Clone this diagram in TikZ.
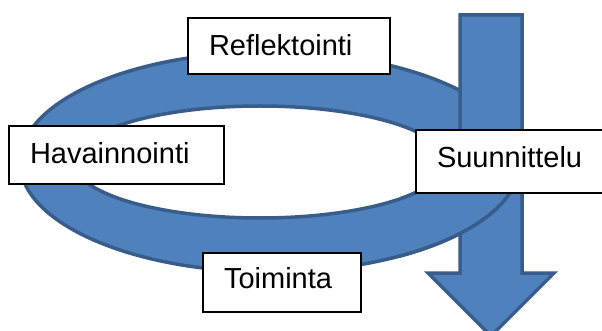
\documentclass[tikz,border=0pt]{standalone}
\usepackage{fontspec}
\setmainfont{Liberation Sans}
\begin{document}
\begin{tikzpicture}[x=1pt,y=-1pt,
  shapefill/.style={fill=ringblue,draw=ringedge,line width=3.5pt},
  box/.style={draw=black,fill=white,line width=2pt,rectangle,anchor=north west,
    inner xsep=21pt,inner ysep=0pt,align=left,text height=21pt,
    font=\fontsize{29pt}{34pt}\selectfont}]
  \definecolor{ringblue}{HTML}{4F81BD}
  \definecolor{ringedge}{HTML}{385D8A}
  \useasboundingbox (0,0) rectangle (602,331);

  % the ring (outer ellipse with an elliptic hole)
  \def\ringpath{(270,162) ellipse [x radius=250pt, y radius=110pt]
                (260,162) ellipse [x radius=186pt, y radius=56pt]}
  \path[shapefill,even odd rule] \ringpath;

  % downward block arrow
  \path[shapefill] (460,15) -- (522,15) -- (522,273) -- (554,273)
        -- (491,336) -- (428,273) -- (460,273) -- cycle;

  % lower right part of the ring passes in front of the arrow
  \begin{scope}
    \clip (400,180) rectangle (602,331);
    \path[shapefill,even odd rule] \ringpath;
  \end{scope}

  % labelled boxes
  \node[box,minimum width=202pt,minimum height=55.5pt,text width=160pt,text depth=1pt]
    (refl) at (187,17.2) {Reflektointi};
  \node[box,minimum width=215pt,minimum height=58pt,text width=173pt,text depth=3pt]
    (hav) at (8,125) {Havainnointi};
  \node[box,minimum width=200pt,minimum height=63.5pt,text width=158pt,text depth=9pt]
    (suun) at (415,129) {Suunnittelu};
  \node[box,minimum width=158pt,minimum height=58.7pt,text width=116pt,text depth=8pt]
    (toim) at (202,252) {Toiminta};
\end{tikzpicture}
\end{document}
